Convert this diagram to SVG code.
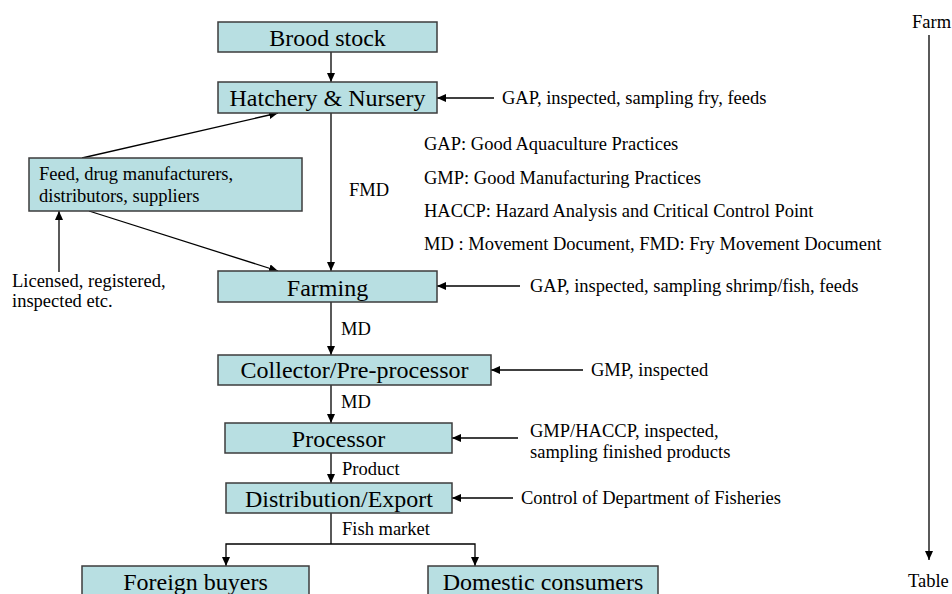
<svg xmlns="http://www.w3.org/2000/svg" width="952" height="594" viewBox="0 0 952 594" font-family="'Liberation Serif', 'Times New Roman', 'DejaVu Serif', serif">
<defs>
<marker id="ah" markerWidth="9" markerHeight="8" refX="9" refY="4" orient="auto" markerUnits="userSpaceOnUse">
<path d="M0,0 L9,4 L0,8 z" fill="#000"/>
</marker>
<style>
.box{fill:#B8DFE2;stroke:#3c3c3c;stroke-width:1.5}
.big{font-family:'Liberation Serif','Times New Roman','DejaVu Serif',serif;font-size:24px;fill:#000;text-anchor:middle}
.lbl{font-family:'Liberation Serif','Times New Roman','DejaVu Serif',serif;font-size:18.5px;fill:#000}
.ln{stroke:#000;stroke-width:1.3;fill:none}
.arr{stroke:#000;stroke-width:1.3;fill:none;marker-end:url(#ah)}
</style>
</defs>
<rect width="952" height="594" fill="#fff"/>

<g id="connectors">
<line class="arr" x1="331" y1="52" x2="331" y2="82"/>
<line class="arr" x1="331" y1="113" x2="331" y2="271"/>
<line class="arr" x1="82" y1="158" x2="278" y2="113"/>
<line class="arr" x1="89" y1="211" x2="278" y2="271"/>
<line class="arr" x1="59" y1="272" x2="59" y2="211"/>
<line class="arr" x1="331" y1="302" x2="331" y2="355"/>
<line class="arr" x1="331" y1="385" x2="331" y2="423"/>
<line class="arr" x1="331" y1="453" x2="331" y2="483"/>
<polyline class="ln" points="331,513 331,544"/>
<polyline class="arr" points="331,544 226,544 226,566"/>
<polyline class="arr" points="331,544 475,544 475,566"/>
<line class="arr" x1="494" y1="98" x2="437" y2="98"/>
<line class="arr" x1="520" y1="286" x2="437" y2="286"/>
<line class="arr" x1="583" y1="370" x2="491" y2="370"/>
<line class="arr" x1="518" y1="438" x2="452" y2="438"/>
<line class="arr" x1="513" y1="498" x2="452" y2="498"/>
<line class="arr" x1="929" y1="35" x2="929" y2="560"/>
<text class="lbl" x="349" y="196">FMD</text>
<text class="lbl" x="341" y="335">MD</text>
<text class="lbl" x="341" y="408">MD</text>
<text class="lbl" x="342" y="475">Product</text>
<text class="lbl" x="342" y="535">Fish market</text>
</g>

<g id="brood"><rect class="box" x="218" y="22" width="219" height="30"/><text class="big" x="327.5" y="46">Brood stock</text></g>
<g id="hatchery"><rect class="box" x="218" y="82" width="219" height="31"/><text class="big" x="327.5" y="106">Hatchery &amp; Nursery</text></g>
<g id="feed"><rect class="box" x="29" y="158" width="273" height="53"/><text class="lbl" x="39" y="180">Feed, drug manufacturers,</text><text class="lbl" x="39" y="202">distributors, suppliers</text></g>
<g id="farming"><rect class="box" x="218" y="271" width="219" height="31"/><text class="big" x="327.5" y="296">Farming</text></g>
<g id="collector"><rect class="box" x="218" y="355" width="273" height="30"/><text class="big" x="354.5" y="378">Collector/Pre-processor</text></g>
<g id="processor"><rect class="box" x="225" y="423" width="227" height="30"/><text class="big" x="338.5" y="447">Processor</text></g>
<g id="distribution"><rect class="box" x="226" y="483" width="226" height="30"/><text class="big" x="339" y="507">Distribution/Export</text></g>
<g id="foreign"><rect class="box" x="82" y="566" width="227" height="32"/><text class="big" x="195.5" y="590">Foreign buyers</text></g>
<g id="domestic"><rect class="box" x="428" y="566" width="230" height="32"/><text class="big" x="543" y="590">Domestic consumers</text></g>

<g id="notes">
<text class="lbl" x="12" y="287">Licensed, registered,</text>
<text class="lbl" x="12" y="307">inspected etc.</text>
<text class="lbl" x="502" y="104">GAP, inspected, sampling fry, feeds</text>
<text class="lbl" x="424" y="150">GAP: Good Aquaculture Practices</text>
<text class="lbl" x="424" y="184">GMP: Good Manufacturing Practices</text>
<text class="lbl" x="424" y="217">HACCP: Hazard Analysis and Critical Control Point</text>
<text class="lbl" x="424" y="250">MD : Movement Document, FMD: Fry Movement Document</text>
<text class="lbl" x="530" y="292">GAP, inspected, sampling shrimp/fish, feeds</text>
<text class="lbl" x="591" y="376">GMP, inspected</text>
<text class="lbl" x="530" y="437">GMP/HACCP, inspected,</text>
<text class="lbl" x="530" y="458">sampling finished products</text>
<text class="lbl" x="521" y="504">Control of Department of Fisheries</text>
<text class="lbl" x="912" y="28">Farm</text>
<text class="lbl" x="908" y="587">Table</text>
</g>
</svg>
